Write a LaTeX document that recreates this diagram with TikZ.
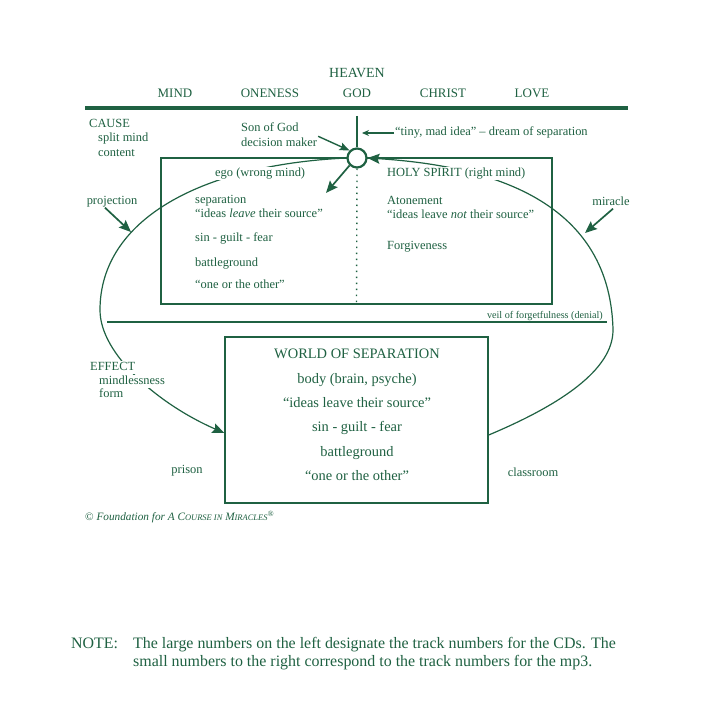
\documentclass[tikz,border=0pt]{standalone}
\usepackage{fontspec}
\setmainfont{Liberation Serif}
\usetikzlibrary{arrows.meta}
\definecolor{CourseGreen}{HTML}{1F6142}

\begin{document}
\begin{tikzpicture}[x=1bp, y=-1bp,
    every node/.style={text=CourseGreen, inner sep=1bp},
    lbl/.style={font=\fontsize{12.5}{15}\selectfont, text height=8.5bp, text depth=2.5bp},
    wrld/.style={font=\fontsize{14.5}{17}\selectfont, text height=10bp, text depth=3bp},
    heavenrow/.style={font=\fontsize{13}{15}\selectfont},
    cover/.style={fill=white},
    frame/.style={draw=CourseGreen, line width=1.4bp},
    bar/.style={draw=CourseGreen, line width=3.8bp},
    curve/.style={draw=CourseGreen, line width=1.2bp},
    bigtip/.style={-{Stealth[length=12bp, width=10bp, inset=2bp]}, draw=CourseGreen, line width=1.7bp},
    midtip/.style={-{Stealth[length=10bp, width=8bp, inset=2bp]}, draw=CourseGreen, line width=1.4bp},
    smalltip/.style={-{Stealth[length=7bp, width=6bp]}, draw=CourseGreen, line width=1.2bp}]
  \fill[white] (0,0) rectangle (720,720);
  \useasboundingbox (0,0) rectangle (720,720);

  % heaven
  \node[font=\fontsize{14}{16}\selectfont] (heaven) at (357,73) {HEAVEN};
  \foreach \x/\w in {175/MIND, 270/ONENESS, 357/GOD, 443/CHRIST, 532/LOVE}
    \node[heavenrow] (\w) at (\x,93) {\w};
  \draw[bar] (85,108) -- (628,108);

  % split mind and world
  \node[frame, minimum width=391bp, minimum height=146bp] (mindbox) at (356.5,231) {};
  \node[frame, minimum width=263bp, minimum height=166bp] (world) at (356.5,420) {};
  \draw[CourseGreen, line width=2.8bp] (107,322) -- (607,322);
  \node[font=\fontsize{10.2}{12}\selectfont, anchor=base east] (veil) at (604,318) {veil of forgetfulness (denial)};

  % decision maker
  \coordinate (apex) at (357,116);
  \node[circle, draw=CourseGreen, line width=2.2bp, fill=white, minimum size=19bp, inner sep=0pt] (dm) at (357,158) {};
  \draw[frame] (apex) -- (dm.north);
  \draw[CourseGreen, line width=1.4bp, dash pattern=on 1.4bp off 4.6bp] (dm.south) -- (mindbox.south);

  % the two loops
  \draw[curve, -{Stealth[length=12bp, width=10bp, inset=2bp]}] (dm.west)
    .. controls (200,165) and (100,220) .. (100,310)
    .. controls (100,355) and (160,405) .. ([yshift=-13bp]world.west);
  \draw[curve, {Stealth[length=12bp, width=10bp, inset=2bp]}-] (dm.east)
    .. controls (480,165) and (610,195) .. (613,330)
    .. controls (613,370) and (560,405) .. ([yshift=-15bp]world.east);

  % cause side
  \node[lbl, anchor=west] (cause) at (88,125) {CAUSE};
  \node[lbl, anchor=west] (split) at (97,139) {split mind};
  \node[lbl, anchor=west] (content) at (97,153) {content};
  \node[lbl] (proj) at (112,201) {projection};
  \coordinate (projtip) at (131,232);
  \draw[bigtip] ([xshift=-7bp]proj.south) -- (projtip);
  \node[lbl] (mir) at (611,202) {miracle};
  \coordinate (mirtip) at (585,233);
  \draw[bigtip] ([xshift=2bp]mir.south) -- (mirtip);

  \node[lbl, anchor=west] (son) at (240,129) {Son of God};
  \node[lbl, anchor=west] (maker) at (240,143) {decision maker};
  \draw[midtip] (maker.north east) -- (dm.north west);
  \node[lbl, anchor=west] (tiny) at (394,133) {“tiny, mad idea” – dream of separation};
  \coordinate (tinytip) at (362,133);
  \draw[smalltip] (tiny.west) -- (tinytip);
  \coordinate (egotip) at (326,193);
  \draw[bigtip] (dm.south west) -- (egotip);

  % wrong mind / right mind
  \node[lbl, cover, anchor=west] (ego) at (214,173) {ego (wrong mind)};
  \node[lbl, cover, anchor=west] (hs) at (386,173) {HOLY SPIRIT (right mind)};
  \node[lbl, anchor=west] (sep) at (194,200) {separation};
  \node[lbl, anchor=west] (leave) at (194,214) {“ideas \textit{leave} their source”};
  \node[lbl, anchor=west] (sgf) at (194,238) {sin - guilt - fear};
  \node[lbl, anchor=west] (battle) at (194,263) {battleground};
  \node[lbl, anchor=west] (oneother) at (194,285) {“one or the other”};
  \node[lbl, anchor=west] (aton) at (386,201) {Atonement};
  \node[lbl, anchor=west] (leavenot) at (386,215) {“ideas leave \textit{not} their source”};
  \node[lbl, anchor=west] (forg) at (386,246) {Forgiveness};

  % effect side
  \node[lbl, cover, anchor=west] (effect) at (89,367) {EFFECT};
  \node[lbl, cover, anchor=west] (mindless) at (98,381) {mindlessness};
  \node[lbl, cover, anchor=west] (form) at (98,394) {form};
  \node[lbl] (prison) at (187,470) {prison};
  \node[lbl] (classroom) at (533,473) {classroom};

  \node[wrld] (w1) at (357,355) {WORLD OF SEPARATION};
  \node[wrld] (w2) at (357,380) {body (brain, psyche)};
  \node[wrld] (w3) at (357,404) {“ideas leave their source”};
  \node[wrld] (w4) at (357,428) {sin - guilt - fear};
  \node[wrld] (w5) at (357,453) {battleground};
  \node[wrld] (w6) at (357,477) {“one or the other”};

  \node[font=\fontsize{11.3}{13}\selectfont\itshape, anchor=west] (fnd) at (84,517)
    {\textup{©} Foundation for A C{\fontsize{8.5}{10}\selectfont OURSE IN} M{\fontsize{8.5}{10}\selectfont IRACLES}\textsuperscript{®}};

  % note
  \node[font=\fontsize{16}{19}\selectfont, anchor=base west] (note) at (70,648) {NOTE:};
  \node[font=\fontsize{16}{19}\selectfont, anchor=base west] (note1) at (132,648) {The large numbers on the left designate the track numbers for the CDs. The};
  \node[font=\fontsize{16}{19}\selectfont, anchor=base west] (note2) at (132,666) {small numbers to the right correspond to the track numbers for the mp3.};
\end{tikzpicture}
\end{document}
